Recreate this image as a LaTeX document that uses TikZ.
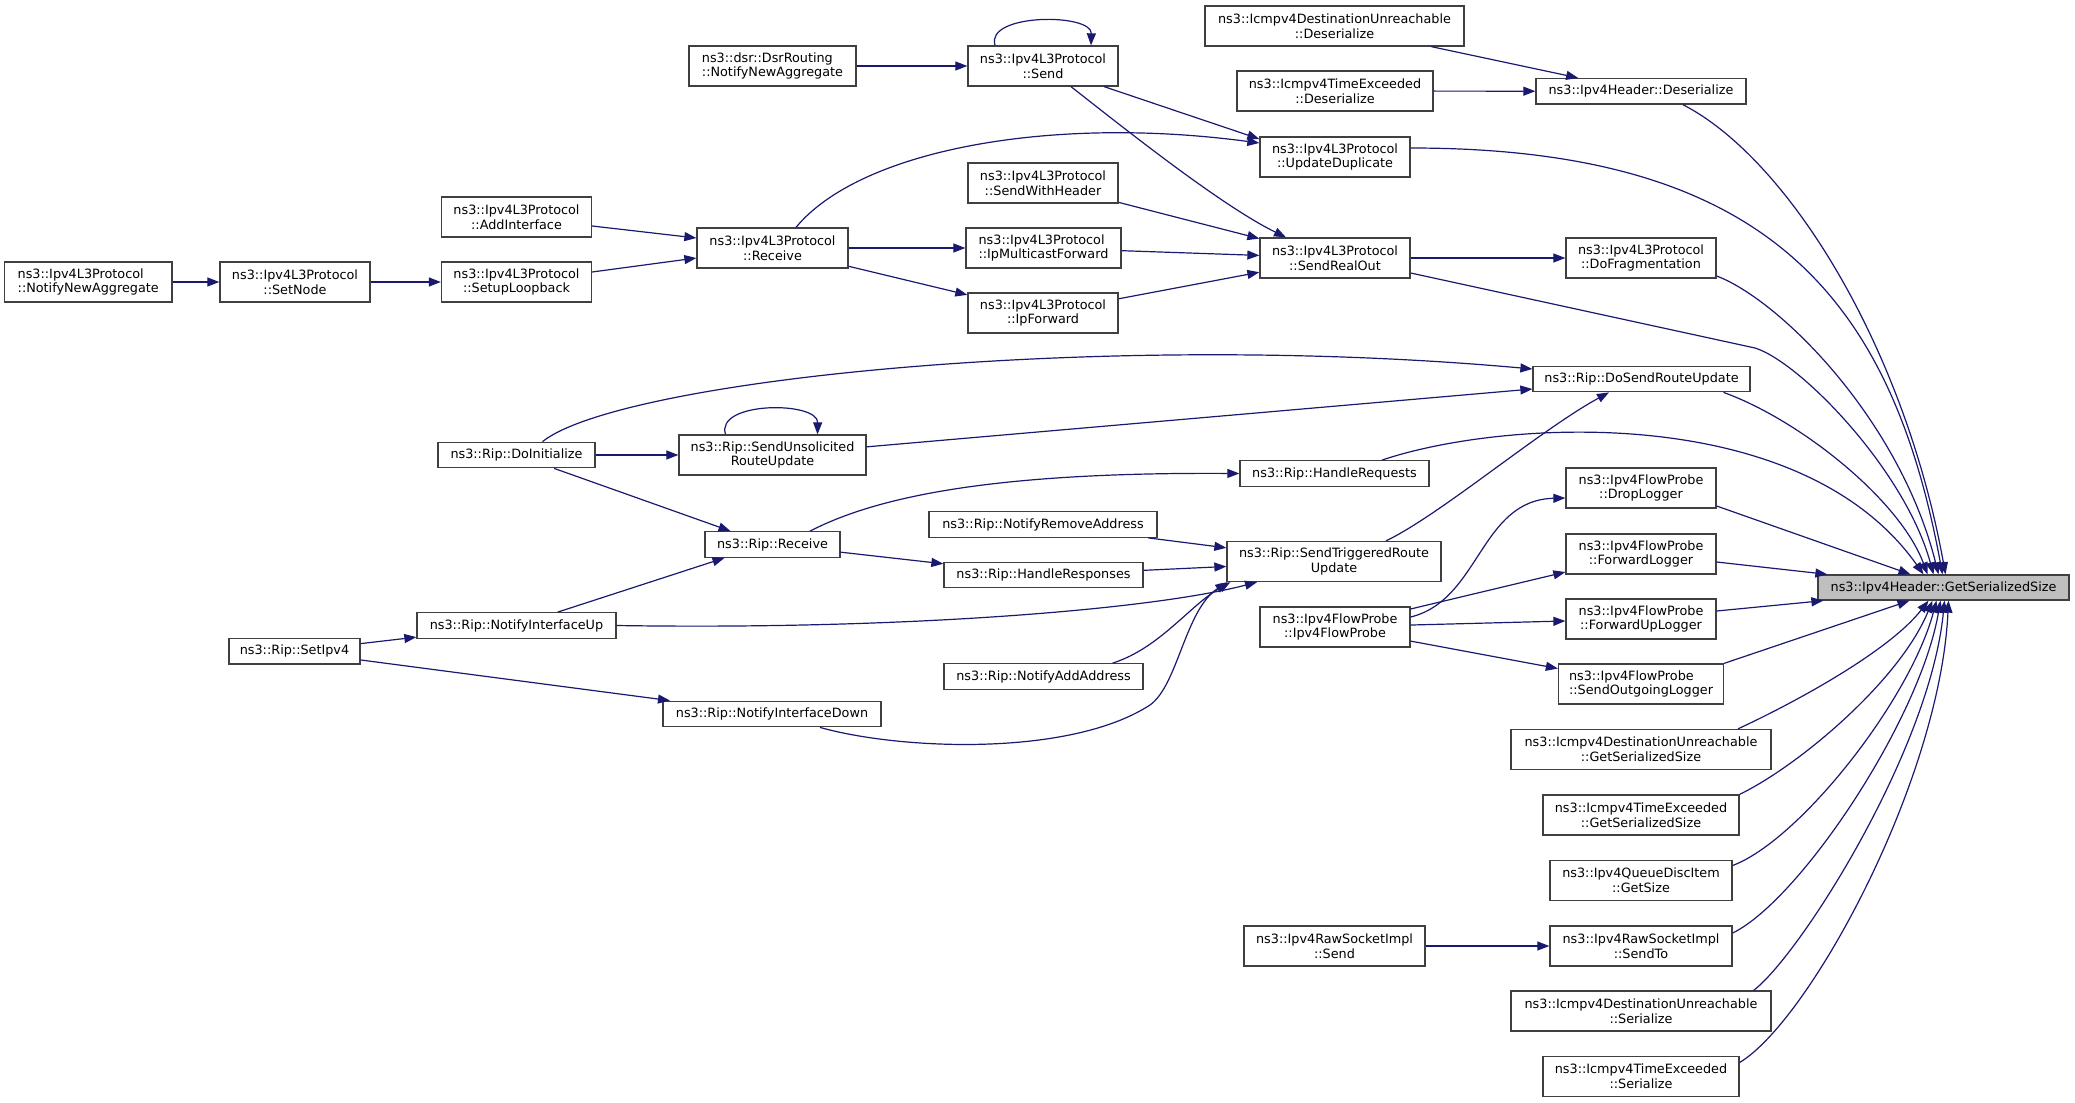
\documentclass[tikz,border=0pt]{standalone}
\usepackage{fontspec}
\setmainfont{DejaVu Sans}
\usetikzlibrary{arrows.meta,calc}
\definecolor{edgec}{HTML}{191970}
\definecolor{boxc}{HTML}{404040}
\definecolor{hlc}{HTML}{BFBFBF}
\tikzset{
  fnbox/.style={draw=boxc, line width=1.3pt, fill=white, inner sep=0pt,
    font=\fontsize{12.8}{14.7}\selectfont, align=center, minimum height=40pt},
  onebox/.style={fnbox, minimum height=25.5pt},
  lbox/.style={fnbox, align=left},
  callarrow/.style={draw=edgec, line width=1.2pt, -{Triangle[length=12pt,width=9pt]}},
}
\begin{document}
\begin{tikzpicture}[x=1pt,y=-1pt]
\useasboundingbox (0,0) rectangle (2075,1103);
% ---- nodes ----
\node[lbox, minimum width=167.5pt] (nna) at (88.25,282) {ns3::Ipv4L3Protocol\\::NotifyNewAggregate};
\node[fnbox, minimum width=150pt] (setnode) at (295,282) {ns3::Ipv4L3Protocol\\::SetNode};
\node[fnbox, minimum width=150pt] (setuploop) at (516.5,282) {ns3::Ipv4L3Protocol\\::SetupLoopback};
\node[fnbox, minimum width=150pt] (addif) at (516.5,217) {ns3::Ipv4L3Protocol\\::AddInterface};
\node[fnbox, minimum width=151pt] (recv3) at (772.5,248) {ns3::Ipv4L3Protocol\\::Receive};
\node[lbox, minimum width=167pt] (dsr) at (772.5,66) {ns3::dsr::DsrRouting\\::NotifyNewAggregate};
\node[fnbox, minimum width=150pt] (send) at (1043,66) {ns3::Ipv4L3Protocol\\::Send};
\node[fnbox, minimum width=259pt] (duDes) at (1334.5,26) {ns3::Icmpv4DestinationUnreachable\\::Deserialize};
\node[fnbox, minimum width=196pt] (teDes) at (1335,91) {ns3::Icmpv4TimeExceeded\\::Deserialize};
\node[onebox, minimum width=210pt] (hdrDes) at (1641,91.3) {ns3::Ipv4Header::Deserialize};
\node[fnbox, minimum width=150pt] (updup) at (1335,157) {ns3::Ipv4L3Protocol\\::UpdateDuplicate};
\node[fnbox, minimum width=150pt] (sendwh) at (1043,183) {ns3::Ipv4L3Protocol\\::SendWithHeader};
\node[lbox, minimum width=155pt] (ipmf) at (1043.5,248) {ns3::Ipv4L3Protocol\\::IpMulticastForward};
\node[fnbox, minimum width=150pt] (ipfwd) at (1043,313) {ns3::Ipv4L3Protocol\\::IpForward};
\node[fnbox, minimum width=150pt] (sro) at (1335,258) {ns3::Ipv4L3Protocol\\::SendRealOut};
\node[fnbox, minimum width=150pt] (dofrag) at (1641,258) {ns3::Ipv4L3Protocol\\::DoFragmentation};
\node[onebox, minimum width=217pt] (dsru) at (1641.5,379) {ns3::Rip::DoSendRouteUpdate};
\node[onebox, minimum width=157pt] (doinit) at (516.5,455) {ns3::Rip::DoInitialize};
\node[fnbox, minimum width=187pt] (sunsol) at (772.5,455) {ns3::Rip::SendUnsolicited\\RouteUpdate};
\node[onebox, minimum width=189pt] (handreq) at (1334.5,473.5) {ns3::Rip::HandleRequests};
\node[onebox, minimum width=135pt] (riprecv) at (772.5,544.5) {ns3::Rip::Receive};
\node[onebox, minimum width=228pt] (nremaddr) at (1043,524.5) {ns3::Rip::NotifyRemoveAddress};
\node[onebox, minimum width=199pt] (handresp) at (1043.5,575) {ns3::Rip::HandleResponses};
\node[fnbox, minimum width=214pt] (strig) at (1334,561.5) {ns3::Rip::SendTriggeredRoute\\Update};
\node[onebox, minimum width=199pt] (nifup) at (516.5,625.5) {ns3::Rip::NotifyInterfaceUp};
\node[onebox, minimum width=131pt] (setipv4) at (294.5,651.3) {ns3::Rip::SetIpv4};
\node[fnbox, minimum width=150pt] (fprobe) at (1335,627) {ns3::Ipv4FlowProbe\\::Ipv4FlowProbe};
\node[onebox, minimum width=199pt] (naddaddr) at (1043.5,676.5) {ns3::Rip::NotifyAddAddress};
\node[onebox, minimum width=218pt] (nifdown) at (772,714) {ns3::Rip::NotifyInterfaceDown};
\node[fnbox, minimum width=150pt] (droplog) at (1641,488) {ns3::Ipv4FlowProbe\\::DropLogger};
\node[fnbox, minimum width=150pt] (fwdlog) at (1641,554) {ns3::Ipv4FlowProbe\\::ForwardLogger};
\node[fnbox, minimum width=150pt] (fwduplog) at (1641,619) {ns3::Ipv4FlowProbe\\::ForwardUpLogger};
\node[lbox, minimum width=165pt] (sendoutlog) at (1641,684) {ns3::Ipv4FlowProbe\\::SendOutgoingLogger};
\node[fnbox, minimum width=260pt] (duGSS) at (1641,749.5) {ns3::Icmpv4DestinationUnreachable\\::GetSerializedSize};
\node[fnbox, minimum width=196pt] (teGSS) at (1641,815) {ns3::Icmpv4TimeExceeded\\::GetSerializedSize};
\node[fnbox, minimum width=182pt] (qdisc) at (1641,880.5) {ns3::Ipv4QueueDiscItem\\::GetSize};
\node[fnbox, minimum width=182pt] (sendto) at (1641,946) {ns3::Ipv4RawSocketImpl\\::SendTo};
\node[fnbox, minimum width=181pt] (rawsend) at (1334.5,946) {ns3::Ipv4RawSocketImpl\\::Send};
\node[fnbox, minimum width=260pt] (duSer) at (1641,1011) {ns3::Icmpv4DestinationUnreachable\\::Serialize};
\node[fnbox, minimum width=196pt] (teSer) at (1641,1076.5) {ns3::Icmpv4TimeExceeded\\::Serialize};
\node[onebox, fill=hlc, minimum width=251pt, minimum height=25pt] (gss) at (1943.5,587.5) {ns3::Ipv4Header::GetSerializedSize};
% ---- edges ----
\draw[callarrow] (nna) -- (setnode);
\draw[callarrow] (setnode) -- (setuploop);
\draw[callarrow] ($(setuploop.east)+(0,-10)$) -- ($(recv3.west)+(0,10)$);
\draw[callarrow] ($(addif.east)+(0,9)$) -- ($(recv3.west)+(0,-10)$);
\draw[callarrow] ($(recv3.north)+(23.5,0)$) .. controls (860,150) and (1050,115) .. ($(updup.west)+(0,-14)$);
\draw[callarrow] (recv3) -- (ipmf);
\draw[callarrow] (recv3) -- (ipfwd);
\draw[callarrow] (dsr) -- (send);
\draw[callarrow] ($(send.north)+(-48,0)$) .. controls (985,13) and (1092,13) .. ($(send.north)+(48,0)$);
\draw[callarrow] (send) -- ($(updup.west)+(0,-18)$);
\draw[callarrow] ($(send.south)+(28,0)$) .. controls (1120,125) and (1220,205) .. ($(sro.north)+(-49,0)$);
\draw[callarrow] (sendwh) -- (sro);
\draw[callarrow] (ipmf) -- (sro);
\draw[callarrow] (ipfwd) -- (sro);
\draw[callarrow] (duDes) -- (hdrDes);
\draw[callarrow] (teDes) -- (hdrDes);
\draw[callarrow] (sro) -- (dofrag);
% to GetSerializedSize, from above
\draw[callarrow] ($(hdrDes.south)+(42,0)$) .. controls (1790,160) and (1905,350) .. ($(gss.north)+(2,0)$);
\draw[callarrow] ($(updup.east)+(0,-9)$) .. controls (1760,148) and (1890,290) .. ($(gss.north)+(-1,0)$);
\draw[callarrow] ($(dofrag.east)+(0,18)$) .. controls (1780,300) and (1900,420) .. ($(gss.north)+(-5,0)$);
\draw[callarrow] ($(sro.east)+(0,15)$) -- (1755,348) .. controls (1800,362) and (1905,470) .. ($(gss.north)+(-10,0)$);
\draw[callarrow] ($(dsru.south)+(82,0)$) .. controls (1800,420) and (1900,500) .. ($(gss.north)+(-16,0)$);
\draw[callarrow] ($(handreq.north)+(47.5,0)$) .. controls (1500,420) and (1800,400) .. ($(gss.north)+(-20,0)$);
\draw[callarrow] ($(droplog.east)+(0,18)$) -- ($(gss.north)+(-33,0)$);
\draw[callarrow] ($(fwdlog.east)+(0,8)$) -- ($(gss.north west)+(10,0)$);
\draw[callarrow] ($(fwduplog.east)+(0,-8)$) -- ($(gss.south west)+(6,0)$);
\draw[callarrow] (sendoutlog.north east) -- ($(gss.south)+(-34,0)$);
% to GetSerializedSize, from below
\draw[callarrow] ($(duGSS.north)+(97,0)$) .. controls (1800,700) and (1890,650) .. ($(gss.south)+(-15,0)$);
\draw[callarrow] (teGSS.north east) .. controls (1800,765) and (1900,680) .. ($(gss.south)+(-11,0)$);
\draw[callarrow] ($(qdisc.east)+(0,-15)$) .. controls (1800,840) and (1910,700) .. ($(gss.south)+(-7,0)$);
\draw[callarrow] ($(sendto.east)+(0,-13)$) .. controls (1800,900) and (1920,720) .. ($(gss.south)+(-3,0)$);
\draw[callarrow] ($(duSer.north east)+(-18,0)$) .. controls (1800,955) and (1930,750) .. ($(gss.south)+(1,0)$);
\draw[callarrow] ($(teSer.east)+(0,-14)$) .. controls (1810,1020) and (1940,780) .. ($(gss.south)+(5,0)$);
\draw[callarrow] (rawsend) -- (sendto);
% Rip part
\draw[callarrow] ($(doinit.north)+(26,0)$) .. controls (620,380) and (1100,330) .. ($(dsru.west)+(0,-10)$);
\draw[callarrow] (doinit) -- (sunsol);
\draw[callarrow] (doinit) -- ($(riprecv.north)+(-42,0)$);
\draw[callarrow] ($(sunsol.north)+(-47,0)$) .. controls (715,401) and (818,401) .. ($(sunsol.north)+(45,0)$);
\draw[callarrow] (sunsol) -- ($(dsru.west)+(0,10)$);
\draw[callarrow] ($(riprecv.north)+(37.5,0)$) .. controls (880,495) and (1000,472) .. (handreq.west);
\draw[callarrow] (riprecv) -- (handresp);
\draw[callarrow] (nifup) -- ($(riprecv.south)+(-48,0)$);
\draw[callarrow] (nifup.east) .. controls (900,630) and (1150,610) .. ($(strig.south)+(-77,0)$);
\draw[callarrow] (setipv4) -- (nifup);
\draw[callarrow] (setipv4) -- (nifdown);
\draw[callarrow] ($(nifdown.south)+(48,0)$) .. controls (900,750) and (1070,757) .. (1150,705) .. controls (1178,685) and (1185,610) .. ($(strig.south west)+(1,0)$);
\draw[callarrow] (nremaddr) -- (strig);
\draw[callarrow] (handresp) -- (strig);
\draw[callarrow] ($(naddaddr.north east)+(-31,0)$) .. controls (1160,648) and (1190,605) .. ($(strig.south west)+(4,0)$);
\draw[callarrow] ($(strig.north)+(52,0)$) .. controls (1440,515) and (1540,430) .. ($(dsru.south)+(-32.5,0)$);
\draw[callarrow] ($(fprobe.east)+(0,-10)$) .. controls (1480,600) and (1480,500) .. ($(droplog.west)+(0,10)$);
\draw[callarrow] (fprobe) -- (fwdlog);
\draw[callarrow] (fprobe) -- (fwduplog);
\draw[callarrow] (fprobe) -- (sendoutlog);
\end{tikzpicture}
\end{document}
